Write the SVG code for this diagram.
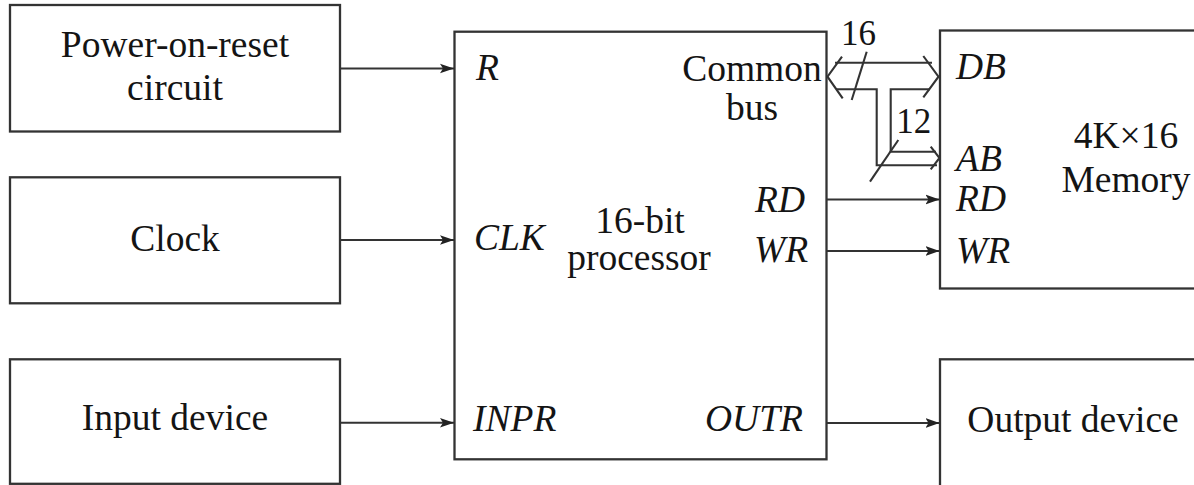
<svg xmlns="http://www.w3.org/2000/svg" width="1194" height="485" viewBox="0 0 1194 485">
<style>
.box{fill:#fff;stroke:#333;stroke-width:2.3}
.ln{fill:none;stroke:#333;stroke-width:2.1}
.t{font-family:"Liberation Serif","Times New Roman",serif;font-size:37.5px;fill:#141414}
.c{text-anchor:middle}
.i{font-style:italic}
.n{font-size:35px}
</style>
<defs>
<marker id="ah" markerWidth="16" markerHeight="12" refX="14" refY="6" orient="auto" markerUnits="userSpaceOnUse">
<path d="M0,1.2 L14,6 L0,10.8 L3,6 Z" fill="#222"/>
</marker>
</defs>
<rect width="1194" height="485" fill="#fff"/>
<g id="power-on-reset">
<rect class="box" x="10" y="5" width="330" height="126.5"/>
<text class="t c" x="175" y="57">Power-on-reset</text>
<text class="t c" x="175" y="100">circuit</text>
</g>
<g id="clock">
<rect class="box" x="10" y="177.3" width="330" height="126"/>
<text class="t c" x="175" y="251">Clock</text>
</g>
<g id="input-device">
<rect class="box" x="10" y="359.3" width="330" height="124.5"/>
<text class="t c" x="175" y="430">Input device</text>
</g>
<g id="processor">
<rect class="box" x="454.5" y="31.7" width="372" height="427.6"/>
<text class="t i" x="476" y="80">R</text>
<text class="t c" x="752" y="81">Common</text>
<text class="t c" x="752" y="120">bus</text>
<text class="t c" x="640" y="233">16-bit</text>
<text class="t c" x="639" y="270">processor</text>
<text class="t i" x="474" y="250">CLK</text>
<text class="t i" x="755" y="211.7">RD</text>
<text class="t i" x="754" y="261.7">WR</text>
<text class="t i" x="473" y="430.7">INPR</text>
<text class="t i" x="705" y="430.7">OUTR</text>
</g>
<g id="memory">
<rect class="box" x="940" y="30.5" width="270" height="258"/>
<text class="t i" x="956" y="79">DB</text>
<text class="t i" x="956" y="170.7">AB</text>
<text class="t i" x="956" y="210.7">RD</text>
<text class="t i" x="956" y="263.3">WR</text>
<text class="t c" x="1126" y="148.3">4K×16</text>
<text class="t c" x="1126" y="191.7">Memory</text>
</g>
<g id="output-device">
<rect class="box" x="940" y="359.3" width="270" height="140"/>
<text class="t c" x="1073" y="431.7">Output device</text>
</g>
<g id="connectors">
<line class="ln" x1="340" y1="68.5" x2="454" y2="68.5" marker-end="url(#ah)"/>
<line class="ln" x1="340" y1="240" x2="454" y2="240" marker-end="url(#ah)"/>
<line class="ln" x1="340" y1="422.7" x2="454" y2="422.7" marker-end="url(#ah)"/>
<line class="ln" x1="827" y1="199.5" x2="939.5" y2="199.5" marker-end="url(#ah)"/>
<line class="ln" x1="827" y1="251" x2="939.5" y2="251" marker-end="url(#ah)"/>
<line class="ln" x1="827" y1="423" x2="939.5" y2="423" marker-end="url(#ah)"/>
<polyline class="ln" points="842,56.7 827.5,76.7 842.7,98.3"/>
<polyline class="ln" points="923.3,56 938.5,76.7 923.3,97.3"/>
<line class="ln" x1="835" y1="62.7" x2="932" y2="62.7"/>
<polyline class="ln" points="836,89.3 876.7,89.3 876.7,165.3 937,165.3"/>
<polyline class="ln" points="930,89.3 890.7,89.3 890.7,151.7 936,151.7"/>
<polyline class="ln" points="930.7,146.7 939.5,158 930.7,169.3"/>
<line class="ln" x1="866.7" y1="51.7" x2="851.7" y2="100"/>
<line class="ln" x1="898.3" y1="140" x2="870" y2="181.7"/>
<text class="t n c" x="858.5" y="45">16</text>
<text class="t n c" x="913.8" y="133.3">12</text>
</g>
</svg>
